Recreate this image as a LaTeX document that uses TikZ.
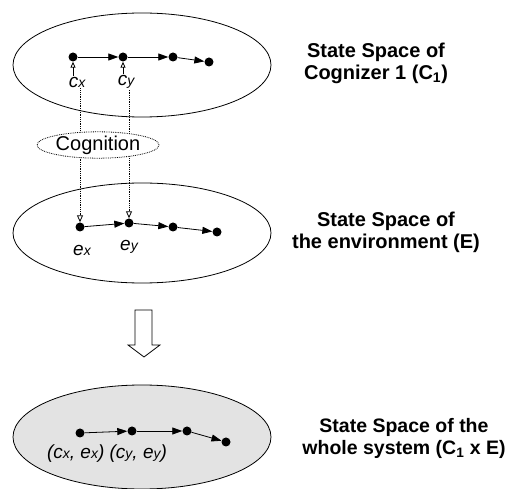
\documentclass[tikz,border=0pt]{standalone}
\usepackage{fontspec}
\setmainfont{Liberation Sans}
\usetikzlibrary{arrows.meta,shapes.geometric}

\newcommand{\lsub}[1]{{\fontsize{14}{14}\selectfont #1}}

\begin{document}
\begin{tikzpicture}[x=1pt, y=-1pt,
                space/.style = {draw, ellipse, line width=0.8pt, minimum width=258pt, minimum height=104pt},
                state/.style = {circle, fill=black, inner sep=0pt, minimum size=9pt},
                trans/.style = {-{Triangle[length=10pt,width=7pt]}, line width=0.8pt},
                cog/.style = {densely dotted, line width=0.8pt, -{Triangle[open,length=7pt,width=6pt]}},
                cogtip/.style = {line width=0.8pt, -{Triangle[open,length=6pt,width=5pt]}},
                lbl/.style = {font=\fontsize{19}{21}\selectfont\itshape, inner sep=1pt},
                title/.style = {font=\fontsize{20}{22}\selectfont\bfseries, align=center}]
            \useasboundingbox (0,0) rectangle (507,489);
            % state spaces
            \node[space] (cog1) at (142,65) {};
            \node[space, minimum height=100pt] (env) at (142,233) {};
            \node[space, fill=black!11] (whole) at (142,437) {};
            % cognizer states
            \node[state] (c1) at (73,57) {};
            \node[state] (c2) at (123,57) {};
            \node[state] (c3) at (173,57) {};
            \node[state] (c4) at (209,62) {};
            \draw[trans] (c1) -- (c2);
            \draw[trans] (c2) -- (c3);
            \draw[trans] (c3) -- (c4);
            \node[lbl] (cx) at (77,82) {c\lsub{x}};
            \node[lbl] (cy) at (126,82) {c\lsub{y}};
            % environment states
            \node[state] (e1) at (80,227) {};
            \node[state] (e2) at (129,223) {};
            \node[state] (e3) at (173,227) {};
            \node[state] (e4) at (217,232) {};
            \draw[trans] (e1) -- (e2);
            \draw[trans] (e2) -- (e3);
            \draw[trans] (e3) -- (e4);
            \node[lbl] (ex) at (82,250) {e\lsub{x}};
            \node[lbl] (ey) at (129,247) {e\lsub{y}};
            % cognition links
            \draw[cogtip] (cx.north -| c1) -- (c1.south);
            \draw[cogtip] (cy.north -| c2) -- (c2.south);
            \draw[cog] (cx.south -| e1) -- (e1.north);
            \draw[cog] (cy.south -| e2) -- (e2.north);
            \node[draw, ellipse, densely dotted, line width=0.8pt, fill=white, inner sep=0pt,
                  minimum width=122pt, minimum height=24pt, font=\fontsize{20}{22}\selectfont]
                  (cogn) at (98,145) {Cognition};
            % product
            \draw[line width=0.8pt, fill=white] (135,310) -- (152,310) -- (152,345) -- (160,345)
                -- (144,357) -- (128,345) -- (135,345) -- cycle;
            % whole system states
            \node[state] (s1) at (80,433) {};
            \node[state] (s2) at (132,431) {};
            \node[state] (s3) at (187,431) {};
            \node[state] (s4) at (226,442) {};
            \draw[trans] (s1) -- (s2);
            \draw[trans] (s2) -- (s3);
            \draw[trans] (s3) -- (s4);
            \node[lbl] (sxy) at (107,454) {(c\lsub{x}, e\lsub{x}) (c\lsub{y}, e\lsub{y})};
            % titles
            \node[title] (tcog) at (376,63) {State Space of\\Cognizer 1 (C\textsubscript{1})};
            \node[title] (tenv) at (386,232) {State Space of\\the environment (E)};
            \node[title, font=\fontsize{19.5}{22}\selectfont\bfseries] (twhole) at (404,438)
                {State Space of the\\whole system (C\textsubscript{1} x E)};
\end{tikzpicture}
\end{document}
